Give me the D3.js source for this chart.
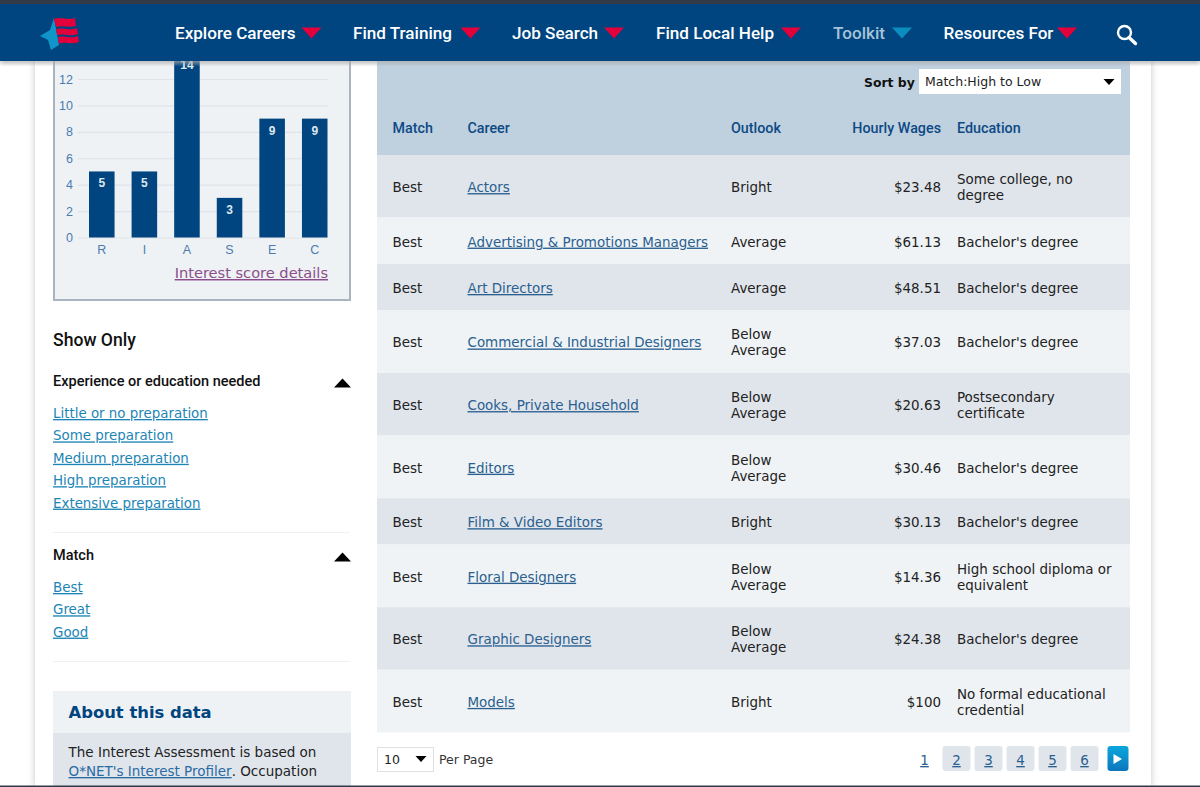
<!DOCTYPE html>
<html>
<head>
<meta charset="utf-8">
<title>Careers</title>
<script src="https://cdn.jsdelivr.net/npm/d3@7"></script>
<style>
  html, body { margin: 0; padding: 0; background: #fff; overflow: hidden; }
  svg { display: block; }
  text { font-family: "DejaVu Sans", Verdana, sans-serif; font-size: 13.45px; fill: #222; }
  .ui { font-family: Roboto, "Open Sans", sans-serif; }
  .link { text-decoration: underline; }
</style>
</head>
<body>
<svg id="page" width="1200" height="787"></svg>
<script>
// interest scores
const interestCodes = ['R', 'I', 'A', 'S', 'E', 'C']
const interestScores = [5, 5, 14, 3, 9, 9]
const scoreTicks = [0, 2, 4, 6, 8, 10, 12]

// career table
const careers = ['Actors', 'Advertising & Promotions Managers', 'Art Directors', 'Commercial & Industrial Designers',
  'Cooks, Private Household', 'Editors', 'Film & Video Editors', 'Floral Designers', 'Graphic Designers', 'Models']
const matches = ['Best', 'Best', 'Best', 'Best', 'Best', 'Best', 'Best', 'Best', 'Best', 'Best']
const outlooks = ['Bright', 'Average', 'Average', 'Below Average', 'Below Average', 'Below Average', 'Bright',
  'Below Average', 'Below Average', 'Bright']
const wages = ['$23.48', '$61.13', '$48.51', '$37.03', '$20.63', '$30.46', '$30.13', '$14.36', '$24.38', '$100']
const educations = ['Some college, no degree', "Bachelor's degree", "Bachelor's degree", "Bachelor's degree",
  'Postsecondary certificate', "Bachelor's degree", "Bachelor's degree", 'High school diploma or equivalent',
  "Bachelor's degree", 'No formal educational credential']

// page text
const navItems = ['Explore Careers', 'Find Training', 'Job Search', 'Find Local Help', 'Toolkit', 'Resources For']
const prepFilters = ['Little or no preparation', 'Some preparation', 'Medium preparation', 'High preparation', 'Extensive preparation']
const matchFilters = ['Best', 'Great', 'Good']
const pages = ['1', '2', '3', '4', '5', '6']

const svg = d3.select('#page')
const blue = '#00457f'

function label (parent, x, y, str, cls) {
  return parent.append('text').attr('x', x).attr('y', y).attr('class', cls || null).text(str)
}

function triangle (parent, cx, cy, w, h, color, up) {
  const d = up
    ? `M${cx - w / 2},${cy + h / 2}L${cx + w / 2},${cy + h / 2}L${cx},${cy - h / 2}Z`
    : `M${cx - w / 2},${cy - h / 2}L${cx + w / 2},${cy - h / 2}L${cx},${cy + h / 2}Z`
  parent.append('path').attr('d', d).attr('fill', color)
}

// wrap on words, returns the lines
function wrapLines (str, maxWidth) {
  const probe = svg.append('text').attr('visibility', 'hidden')
  const lines = []
  let cur = ''
  str.split(' ').forEach(w => {
    const next = cur ? cur + ' ' + w : w
    probe.text(next)
    if (probe.node().getComputedTextLength() > maxWidth && cur) {
      lines.push(cur)
      cur = w
    } else {
      cur = next
    }
  })
  lines.push(cur)
  probe.remove()
  return lines
}

// page shadow
const defs = svg.append('defs')
defs.append('filter').attr('id', 'soft').attr('x', '-5%').attr('width', '110%')
  .append('feGaussianBlur').attr('stdDeviation', 3.5)
const navBlur = defs.append('filter').attr('id', 'navsoft').attr('y', '-50%').attr('height', '200%')
navBlur.append('feGaussianBlur').attr('stdDeviation', 2.5)
const btn = defs.append('linearGradient').attr('id', 'btn').attr('x2', 0).attr('y2', 1)
btn.append('stop').attr('offset', 0).attr('stop-color', '#0aa7dc')
btn.append('stop').attr('offset', 1).attr('stop-color', '#0b76bd')

svg.append('rect').attr('x', 35).attr('y', 0).attr('width', 1116).attr('height', 787)
  .attr('fill', '#c4c4c4').attr('filter', 'url(#soft)')
svg.append('rect').attr('x', 35).attr('y', 0).attr('width', 1116).attr('height', 787).attr('fill', '#fff')

// ---- chart panel
svg.append('rect').attr('x', 54).attr('y', 50).attr('width', 296).attr('height', 250)
  .attr('fill', '#eff2f5').attr('stroke', '#a9b4c0').attr('stroke-width', 2)

const x = d3.scaleBand().domain(interestCodes).range([89, 327.5]).paddingInner(0.4)
const y = d3.scaleLinear().domain([0, 12]).range([237.5, 79])

const chart = svg.append('g')
const grid = chart.append('g')
  .call(d3.axisLeft(y.copy().range([0, y(12) - y(0)])).tickValues(scoreTicks).tickSize(-250).tickPadding(5))
  .attr('transform', 'translate(78,' + y(0) + ')')
grid.select('.domain').remove()
grid.selectAll('line').attr('stroke', '#dfe3e8').attr('stroke-width', 1.2)
grid.selectAll('text').style('font-family', '"Liberation Sans", Arial, sans-serif').style('font-size', '12.5px').style('fill', '#4a7cb0')

chart.selectAll('rect.bar').data(interestScores).enter().append('rect')
  .attr('class', 'bar')
  .attr('x', (d, i) => x(interestCodes[i]))
  .attr('y', d => y(d))
  .attr('width', x.bandwidth())
  .attr('height', d => y(0) - y(d))
  .attr('fill', blue)
chart.selectAll('text.val').data(interestScores).enter().append('text')
  .attr('class', 'val')
  .attr('x', (d, i) => x(interestCodes[i]) + x.bandwidth() / 2)
  .attr('y', d => y(d) + 16)
  .attr('text-anchor', 'middle')
  .style('font-family', '"Liberation Sans", Arial, sans-serif')
  .style('font-size', '12px').style('font-weight', 700).style('fill', '#dfe7ef')
  .text(d => d)

const xAxis = chart.append('g').attr('transform', 'translate(0,' + y(0) + ')')
  .call(d3.axisBottom(x).tickSize(0).tickPadding(8))
xAxis.select('.domain').remove()
xAxis.selectAll('text').style('font-family', '"Liberation Sans", Arial, sans-serif').style('font-size', '12.5px').style('fill', '#4a7cb0')

label(svg, 328, 278, 'Interest score details', 'link')
  .attr('text-anchor', 'end').style('font-size', '14.6px').style('fill', '#8a4f8a')

// ---- filters
label(svg, 53, 346, 'Show Only', 'ui').style('font-size', '17.6px').style('font-weight', 500).style('fill', '#111')
label(svg, 53, 386, 'Experience or education needed', 'ui').style('font-size', '14.5px').style('font-weight', 500).style('fill', '#111')
triangle(svg, 342.5, 383, 17, 9, '#000', true)
prepFilters.forEach((f, i) => {
  label(svg, 53, 418 + i * 22.4, f, 'link').style('fill', '#1d85b5').style('font-size', '13.4px')
})
svg.append('rect').attr('x', 53).attr('y', 532).attr('width', 297).attr('height', 1).attr('fill', '#eef0f2')
label(svg, 53, 560, 'Match', 'ui').style('font-size', '14.5px').style('font-weight', 500).style('fill', '#111')
triangle(svg, 342.5, 557, 17, 9, '#000', true)
matchFilters.forEach((f, i) => {
  label(svg, 53, 592 + i * 22.3, f, 'link').style('fill', '#1d85b5').style('font-size', '13.4px')
})
svg.append('rect').attr('x', 53).attr('y', 661).attr('width', 297).attr('height', 1).attr('fill', '#eef0f2')

// ---- about box
svg.append('rect').attr('x', 53).attr('y', 691).attr('width', 298).attr('height', 42).attr('fill', '#eff2f5')
svg.append('rect').attr('x', 53).attr('y', 733).attr('width', 298).attr('height', 54).attr('fill', '#e0e5ec')
label(svg, 68.5, 718, 'About this data').style('font-size', '16.4px').style('font-weight', 700).style('fill', blue)
label(svg, 68.5, 757, 'The Interest Assessment is based on').style('font-size', '13.5px')
const profiler = label(svg, 68.5, 776, "O*NET's Interest Profiler", 'link').style('fill', '#2a6ba3').style('font-size', '13.5px')
svg.append('text').attr('x', 68.5 + profiler.node().getComputedTextLength()).attr('y', 776).style('font-size', '13.5px').text('. Occupation')

// ---- table
const tableX = 377
const tableW = 753
svg.append('rect').attr('x', tableX).attr('y', 50).attr('width', tableW).attr('height', 105).attr('fill', '#bfd0df')
label(svg, 864, 87, 'Sort by').style('font-weight', 700).style('font-size', '12.4px').style('fill', '#111')
svg.append('rect').attr('x', 919).attr('y', 69).attr('width', 202).attr('height', 25).attr('fill', '#fff')
label(svg, 925, 86, 'Match:High to Low').style('font-size', '12.5px')
triangle(svg, 1109, 82, 11, 6, '#000', false)

const headers = [['Match', 392.5, 'start'], ['Career', 467.5, 'start'], ['Outlook', 731, 'start'], ['Hourly Wages', 941, 'end'], ['Education', 957, 'start']]
headers.forEach(h => {
  label(svg, h[1], 133, h[0], 'ui').attr('text-anchor', h[2])
    .style('font-size', '14.3px').style('font-weight', 500).style('fill', '#0d4a85')
})

const lineH = 16
const rows = careers.map((c, i) => ({
  career: c,
  match: matches[i],
  outlook: wrapLines(outlooks[i], 70),
  wage: wages[i],
  education: wrapLines(educations[i], 160)
}))
rows.forEach(r => { r.h = Math.max(r.outlook.length, r.education.length) > 1 ? 62.6 : 46.4 })
let rowY = 155
rows.forEach(r => {
  r.y = rowY
  rowY += r.h
})

const rowG = svg.selectAll('g.row').data(rows).enter().append('g')
  .attr('class', 'row')
  .attr('transform', d => 'translate(0,' + d.y + ')')
rowG.append('rect').attr('x', tableX).attr('width', tableW).attr('height', d => d.h)
  .attr('fill', (d, i) => i % 2 ? '#eff3f6' : '#e0e5ec')
rowG.append('text').attr('x', 392.5).attr('y', d => d.h / 2 + 5.8).text(d => d.match)
rowG.append('text').attr('x', 467.5).attr('y', d => d.h / 2 + 5.8).attr('class', 'link')
  .style('fill', '#2a5f8f').text(d => d.career)
rowG.append('text').attr('x', 941).attr('y', d => d.h / 2 + 5.8).attr('text-anchor', 'end').text(d => d.wage)

function multi (sel, xPos, key) {
  sel.each(function (d) {
    const lines = d[key]
    const g = d3.select(this)
    lines.forEach((l, i) => {
      g.append('text').attr('x', xPos)
        .attr('y', d.h / 2 + 5.8 + (i - (lines.length - 1) / 2) * lineH)
        .text(l)
    })
  })
}
multi(rowG, 731, 'outlook')
multi(rowG, 957, 'education')

// ---- pager
svg.append('rect').attr('x', 377.5).attr('y', 747.5).attr('width', 56).attr('height', 24)
  .attr('fill', '#fff').attr('stroke', '#dde1e6')
label(svg, 384, 764, '10').style('font-size', '12.5px')
triangle(svg, 421, 759, 11, 6, '#000', false)
label(svg, 439, 764, 'Per Page').style('font-size', '12.5px').style('fill', '#333')

const pageX = d3.scalePoint().domain(pages).range([924.5, 1084.5])
const pg = svg.selectAll('g.pg').data(pages).enter().append('g').attr('class', 'pg')
  .attr('transform', d => 'translate(' + pageX(d) + ',0)')
pg.filter(d => d !== '1').append('rect').attr('x', -14).attr('y', 746).attr('width', 28).attr('height', 25).attr('rx', 3).attr('fill', '#e0e5ec')
pg.append('text').attr('y', 765).attr('text-anchor', 'middle').attr('class', 'link')
  .style('fill', '#2a5f8f').text(d => d)
svg.append('rect').attr('x', 1107.5).attr('y', 746).attr('width', 21).attr('height', 25).attr('rx', 3).attr('fill', 'url(#btn)')
svg.append('path').attr('d', 'M1113.5,754L1122,759L1113.5,764Z').attr('fill', '#fff')

// bottom rule
svg.append('rect').attr('x', 0).attr('y', 785.5).attr('width', 1200).attr('height', 1.5).attr('fill', '#2e3a48')

// ---- nav, drawn last so it covers the page
svg.append('rect').attr('x', 0).attr('y', 58).attr('width', 1200).attr('height', 5).attr('fill', '#aaa').attr('filter', 'url(#navsoft)')
svg.append('rect').attr('x', 0).attr('y', 0).attr('width', 1200).attr('height', 61).attr('fill', blue)
svg.append('rect').attr('x', 0).attr('y', 0).attr('width', 1200).attr('height', 4).attr('fill', '#333a48')

const navX = [175, 353, 512, 656, 833, 943.5]
const navArrowX = [311.5, 470.5, 614, 791, 902, 1067]
navItems.forEach((n, i) => {
  const isTool = n === 'Toolkit'
  label(svg, navX[i], 38.5, n, 'ui').style('font-size', '17.1px').style('font-weight', 500)
    .style('fill', isTool ? '#a5c3d9' : '#fff')
  triangle(svg, navArrowX[i], 33, 20, 11, isTool ? '#0a8ebf' : '#e4003a', false)
})

// logo
svg.append('path').attr('d', 'M54,18L59,45L51,50L48,40L40,36L50,30Z').attr('fill', '#0f95c8')
svg.append('path').attr('d', 'M54,19C60,16 68,21 75,18L76,26C68,28 62,25 56,27Z').attr('fill', '#e4003a')
svg.append('path').attr('d', 'M56,29C63,27 69,31 77,28L78,34C70,37 64,33 57,35Z').attr('fill', '#e4003a')
svg.append('path').attr('d', 'M58,37C65,35 71,39 78,36L79,42C71,45 65,41 59,44Z').attr('fill', '#e4003a')

// search icon
svg.append('circle').attr('cx', 1124.5).attr('cy', 32.5).attr('r', 6.5).attr('fill', 'none').attr('stroke', '#fff').attr('stroke-width', 2.4)
svg.append('line').attr('x1', 1129).attr('y1', 37.5).attr('x2', 1135.5).attr('y2', 43.5).attr('stroke', '#fff').attr('stroke-width', 3.4).attr('stroke-linecap', 'round')
</script>
</body>
</html>
